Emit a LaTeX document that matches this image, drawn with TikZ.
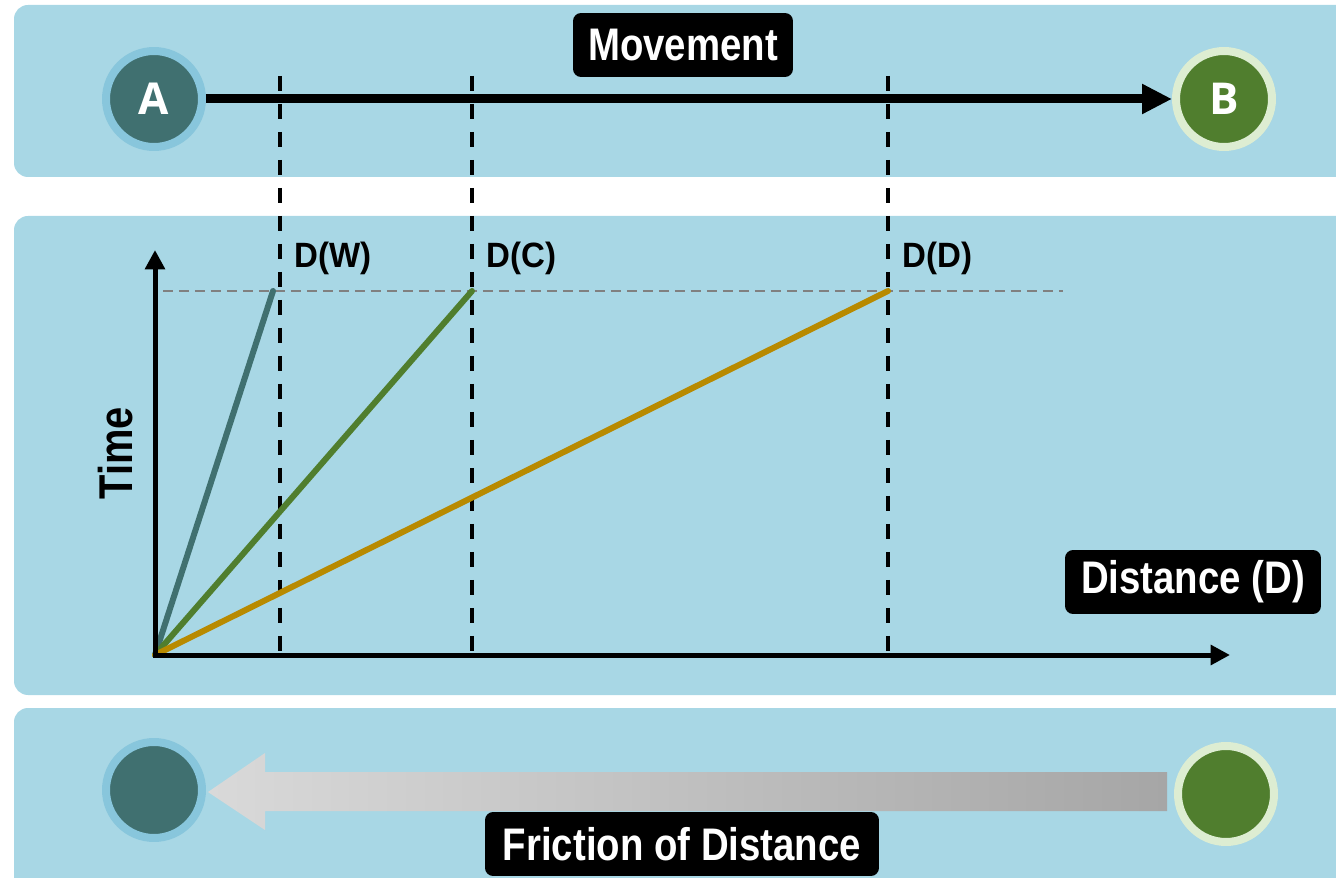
\documentclass[tikz,border=0pt]{standalone}
\usepackage{fontspec}
\newfontfamily\narrowfont[FakeStretch=0.84]{Liberation Sans}
\newfontfamily\labelfont[FakeStretch=0.94]{Liberation Sans}
\newfontfamily\placefont{Open Sans}
\usepackage{tikz}
\usetikzlibrary{arrows.meta, calc}
\definecolor{panelblue}{HTML}{A8D7E5}
\definecolor{walkteal}{HTML}{407070}
\definecolor{walkring}{HTML}{88C6DC}
\definecolor{cargreen}{HTML}{507E2E}
\definecolor{carring}{HTML}{DDEDD2}
\definecolor{drivegold}{HTML}{B88A00}
\definecolor{frictionlight}{HTML}{D9D9D9}
\definecolor{frictiondark}{HTML}{A6A6A6}

\tikzset{
  panel/.style={fill=panelblue, rounded corners=0.28cm},
  tagbox/.style={fill=black, text=white, rounded corners=0.16cm, minimum height=1.28cm,
    inner sep=0pt, font=\narrowfont\bfseries\fontsize{26}{30}\selectfont},
  place/.style={circle, minimum size=1.92cm, line width=0.16cm, inner sep=0pt, text=white,
    font=\placefont\bfseries\fontsize{25}{30}\selectfont},
  placeA/.style={place, fill=walkteal, draw=walkring},
  placeB/.style={place, fill=cargreen, draw=carring},
  cutline/.style={line width=0.07cm, dash pattern=on 0.3cm off 0.26cm},
  speedline/.style={line width=0.12cm, line cap=round},
  axis/.style={line width=0.1cm, -{Triangle[length=11pt,width=11pt]}},
  dlabel/.style={anchor=west, inner sep=0pt, font=\labelfont\bfseries\fontsize{20}{24}\selectfont}
}

\begin{document}
\begin{tikzpicture}[x=0.02cm, y=-0.02cm]
  \clip (0,0) rectangle (1336,878);

  % Panel 1: movement from A to B
  \fill[panel] (14,5) rectangle (1380,177);
  \node[placeA] (a) at (154,99) {A};
  \node[placeB] (b) at (1224,99) {B};
  \draw[line width=0.18cm, -{Triangle[length=17pt,width=16pt]}] (a) -- (b);
  \node[tagbox, minimum width=4.4cm] (movement) at (683,45) {Movement};

  % Panel 2: time over distance
  \fill[panel] (14,216) rectangle (1380,695);
  \coordinate (o) at (155,655);
  \coordinate (w) at (273,291);
  \coordinate (c) at (472,291);
  \coordinate (d) at (888,291);
  \draw[gray, line width=0.05cm, dash pattern=on 0.2cm off 0.12cm] (163,291) -- (1063,291);
  % D(W), D(C), D(D) marks running up through panel 1
  \foreach \x/\lab in {280/W, 472/C, 888/D}{
    \draw[cutline] (\x,76) -- (\x,655);
    \node[dlabel] (lab\lab) at (\x+14,258) {D(\lab)};
  }
  \draw[speedline, walkteal] (o) -- (w);
  \draw[speedline, cargreen] (o) -- (c);
  \draw[speedline, drivegold] (o) -- (d);
  \draw[axis] ($(o)+(0,2)$) -- (155,250);
  \draw[axis] ($(o)+(-2,0)$) -- (1230,655);
  \node[rotate=90, font=\narrowfont\bfseries\fontsize{27}{30}\selectfont] (time) at (116,453) {Time};
  \node[tagbox, minimum width=5.12cm] (distance) at (1193,582) {Distance (D)};

  % Panel 3: friction of distance
  \fill[panel] (14,708) rectangle (1380,920);
  \node[placeA] (fa) at (154,790) {};
  \node[placeB] (fb) at (1226,794) {};
  \shade[left color=frictionlight, right color=frictiondark]
    (1167,772) -- (265,772) -- (265,753) -- (208,792) -- (265,830) -- (265,811) -- (1167,811) -- cycle;
  \node[tagbox, minimum width=7.88cm] (friction) at (682,844) {Friction of Distance};

\end{tikzpicture}
\end{document}
